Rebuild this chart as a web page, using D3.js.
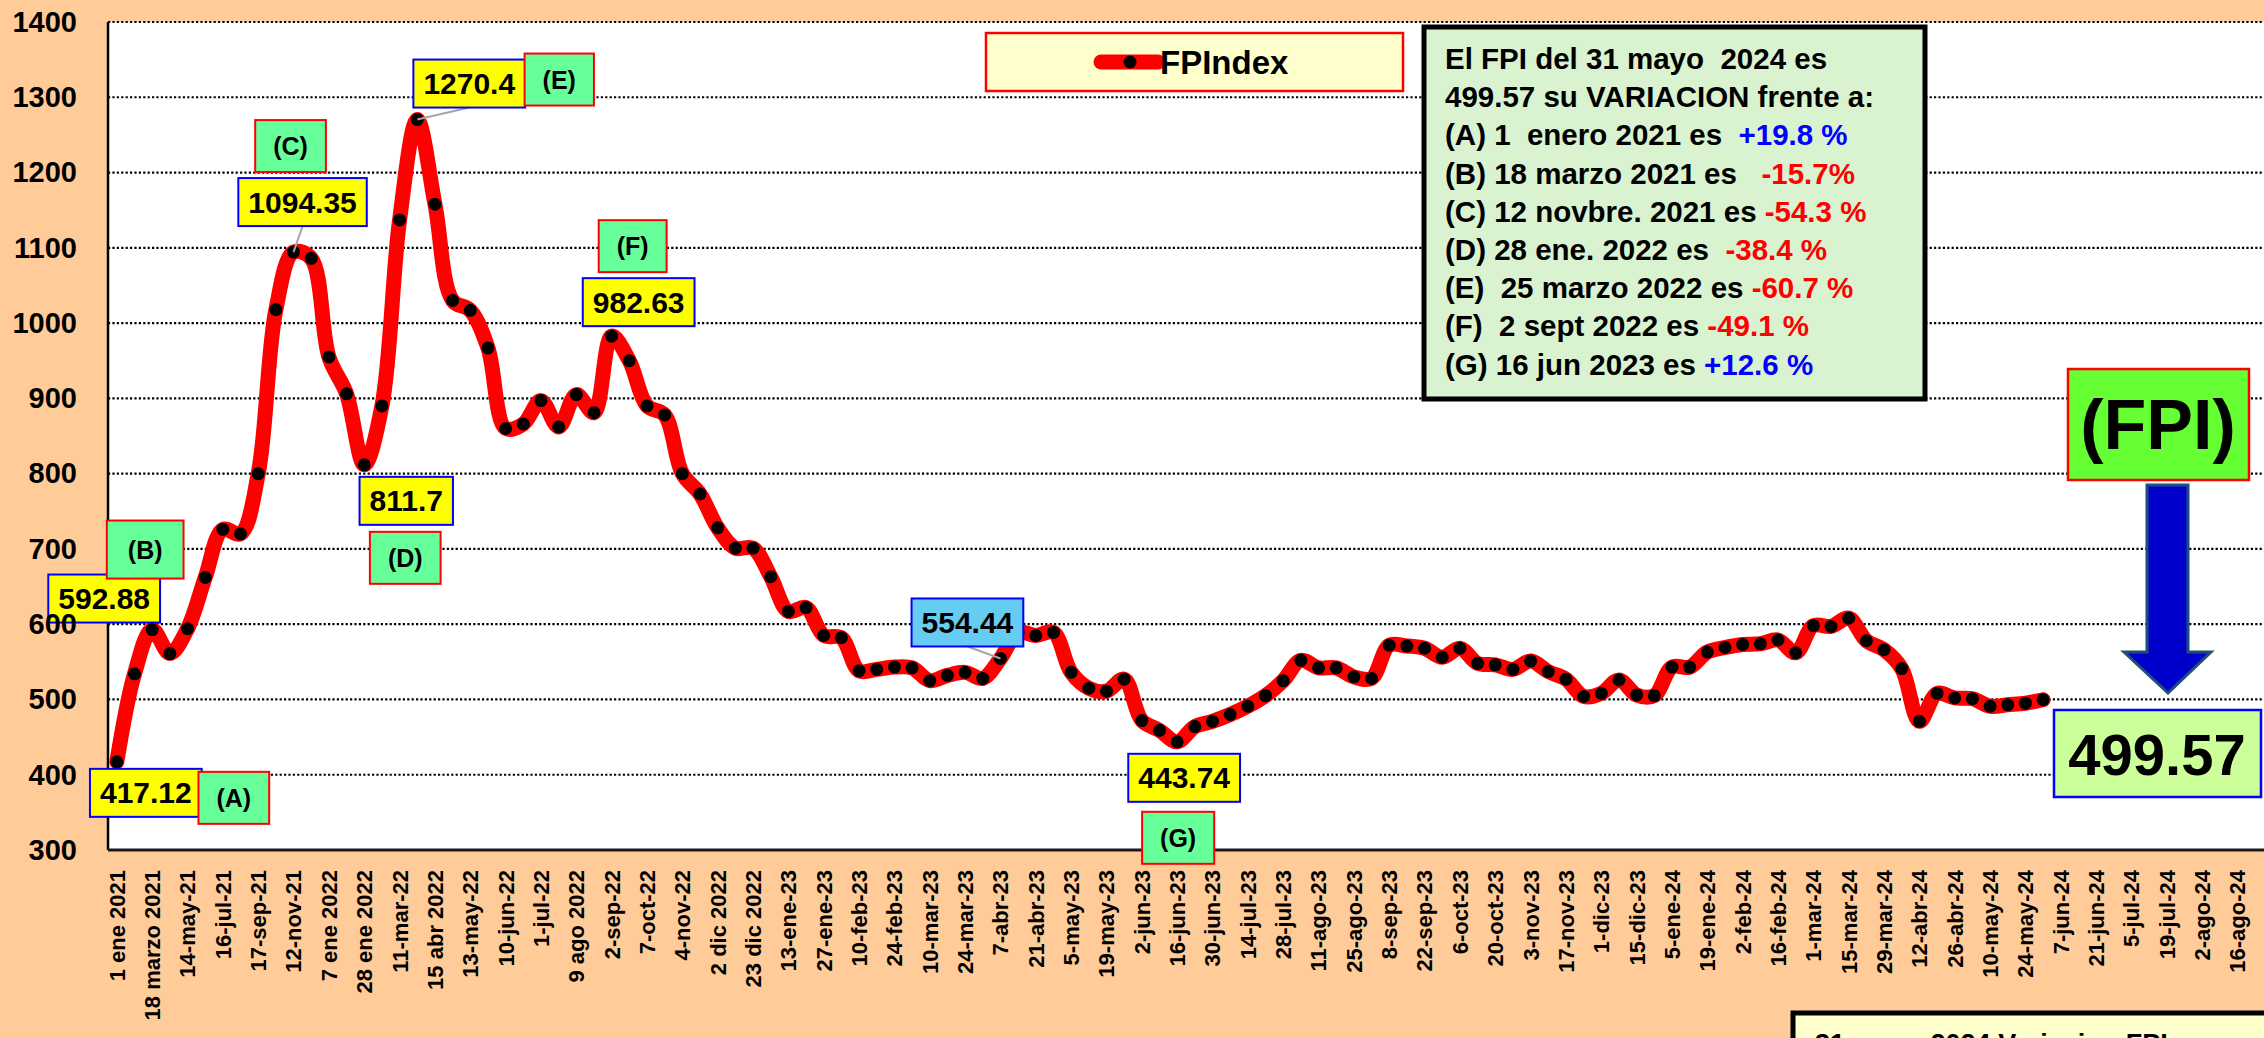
<!DOCTYPE html>
<html>
<head>
<meta charset="utf-8">
<script src="https://cdn.jsdelivr.net/npm/d3@7"></script>
<style>
  body { margin: 0; background: #ffcc99; }
  svg { display: block; font-family: "Liberation Sans", Arial, sans-serif; font-weight: bold; }
</style>
</head>
<body>
<script>
// ---- data ----
const dateLabels = [
  "1 ene 2021", "18 marzo 2021", "14-may-21", "16-jul-21", "17-sep-21", "12-nov-21",
  "7 ene 2022", "28 ene 2022", "11-mar-22", "15 abr 2022", "13-may-22", "10-jun-22",
  "1-jul-22", "9 ago 2022", "2-sep-22", "7-oct-22", "4-nov-22", "2 dic 2022",
  "23 dic 2022", "13-ene-23", "27-ene-23", "10-feb-23", "24-feb-23", "10-mar-23",
  "24-mar-23", "7-abr-23", "21-abr-23", "5-may-23", "19-may-23", "2-jun-23",
  "16-jun-23", "30-jun-23", "14-jul-23", "28-jul-23", "11-ago-23", "25-ago-23",
  "8-sep-23", "22-sep-23", "6-oct-23", "20-oct-23", "3-nov-23", "17-nov-23",
  "1-dic-23", "15-dic-23", "5-ene-24", "19-ene-24", "2-feb-24", "16-feb-24",
  "1-mar-24", "15-mar-24", "29-mar-24", "12-abr-24", "26-abr-24", "10-may-24",
  "24-may-24", "7-jun-24", "21-jun-24", "5-jul-24", "19-jul-24", "2-ago-24", "16-ago-24"
];

// one value per category slot (two slots per shown date label)
const fpiValues = [
  417.12, 534, 592.88, 561, 594, 662, 726, 720, 800, 1018,
  1094.35, 1086, 955, 906, 811.7, 890, 1137, 1270.4, 1158, 1030,
  1017, 967, 860, 866, 897, 862, 905, 881, 982.63, 950,
  890, 878, 800, 773, 728, 701, 701, 663, 617, 622,
  585, 582, 538, 540, 543, 542, 525, 532, 536, 528,
  554.44, 589, 585, 589, 536, 515, 511, 527, 472, 459,
  443.74, 464, 471, 480, 491, 505, 525, 552, 542, 542,
  530, 528, 572, 571, 568, 556, 568, 548, 546, 540,
  551, 537, 527, 504, 508, 526, 506, 505, 543, 543,
  563, 569, 573, 574, 579, 562, 598, 597, 608, 578,
  566, 541, 471, 508, 502, 501, 491, 493, 495, 499.57
];

const yTicks = [300, 400, 500, 600, 700, 800, 900, 1000, 1100, 1200, 1300, 1400];

const valueCallouts = [0, 2, 10, 14, 17, 28, 50, 60];
const letterCallouts = [["(A)", 0], ["(B)", 2], ["(C)", 10], ["(D)", 14], ["(E)", 17], ["(F)", 28], ["(G)", 60]];

const noteLines = [
  ["El FPI del 31 mayo  2024 es", ""],
  ["499.57 su VARIACION frente a:", ""],
  ["(A) 1  enero 2021 es  ", "+19.8 %"],
  ["(B) 18 marzo 2021 es   ", "-15.7%"],
  ["(C) 12 novbre. 2021 es ", "-54.3 %"],
  ["(D) 28 ene. 2022 es  ", "-38.4 %"],
  ["(E)  25 marzo 2022 es ", "-60.7 %"],
  ["(F)  2 sept 2022 es ", "-49.1 %"],
  ["(G) 16 jun 2023 es ", "+12.6 %"]
];

const lastValue = "499.57";

// ---- layout ----
const W = 2264, H = 1038;
const plot = { left: 108, right: 2264, top: 22, bottom: 850 };
const nSlots = dateLabels.length * 2;

// box centre offsets from the point they describe
const valueOffset = {
  0: [29, 31], 2: [-48, -31], 10: [9, -50], 14: [42, 36],
  17: [52, -36], 28: [27, -34], 50: [-33, -36], 60: [7, 36]
};
const letterOffset = {
  "(A)": [117, 36], "(B)": [-7, -80], "(C)": [-3, -106], "(D)": [41, 93],
  "(E)": [142, -40], "(F)": [21, -90], "(G)": [1, 96]
};
const withLeader = [10, 17, 50];

const svg = d3.select("body").append("svg")
  .attr("width", W)
  .attr("height", H);

svg.append("rect")
  .attr("x", plot.left).attr("y", plot.top)
  .attr("width", plot.right - plot.left).attr("height", plot.bottom - plot.top)
  .attr("fill", "#fff");

const x = d3.scaleBand()
  .domain(d3.range(nSlots))
  .range([plot.left, plot.right]);
const xc = i => x(i) + x.bandwidth() / 2;

const y = d3.scaleLinear()
  .domain([300, 1400])
  .range([plot.bottom, plot.top]);

// gridlines
svg.append("g")
  .selectAll("line")
  .data(yTicks.filter(d => d > 300))
  .enter().append("line")
  .attr("x1", plot.left).attr("x2", plot.right)
  .attr("y1", d => y(d)).attr("y2", d => y(d))
  .attr("stroke", "#000")
  .attr("stroke-width", 2.2)
  .attr("stroke-dasharray", "2.2,2.2");

// axes lines
svg.append("line")
  .attr("x1", plot.left).attr("x2", plot.left)
  .attr("y1", plot.top).attr("y2", plot.bottom)
  .attr("stroke", "#000").attr("stroke-width", 2.5);
svg.append("line")
  .attr("x1", plot.left).attr("x2", plot.right)
  .attr("y1", plot.bottom).attr("y2", plot.bottom)
  .attr("stroke", "#1a1a1a").attr("stroke-width", 3);

// x axis labels
const xAxis = d3.axisBottom(x)
  .tickValues(d3.range(0, nSlots, 2))
  .tickFormat(i => dateLabels[i / 2])
  .tickSize(0);
const gx = svg.append("g")
  .attr("transform", `translate(0,${plot.bottom})`)
  .call(xAxis);
gx.select(".domain").remove();
gx.selectAll("text")
  .attr("transform", "rotate(-90)")
  .attr("x", -20)
  .attr("y", 0)
  .attr("dy", "0.36em")
  .attr("text-anchor", "end")
  .attr("font-size", 22)
  .attr("font-family", "'Liberation Sans', Arial, sans-serif")
  .attr("font-weight", "bold")
  .attr("fill", "#000");

// the series
const series = fpiValues.map((v, i) => ({ i, v }));
const line = d3.line()
  .x(d => xc(d.i))
  .y(d => y(d.v))
  .curve(d3.curveCatmullRom.alpha(0.5));

svg.append("path")
  .datum(series)
  .attr("d", line)
  .attr("fill", "none")
  .attr("stroke", "#ff0000")
  .attr("stroke-width", 15)
  .attr("stroke-linecap", "round")
  .attr("stroke-linejoin", "round");

svg.append("g")
  .selectAll("circle")
  .data(series)
  .enter().append("circle")
  .attr("cx", d => xc(d.i))
  .attr("cy", d => y(d.v))
  .attr("r", 6.5)
  .attr("fill", "#000");

// callouts
function box(g, cx, cy, txt, size, fill, stroke, padX, h) {
  const t = g.append("text")
    .attr("x", cx).attr("y", cy)
    .attr("text-anchor", "middle")
    .attr("dominant-baseline", "central")
    .attr("font-size", size)
    .attr("fill", "#000")
    .text(txt);
  const w = t.node().getComputedTextLength() + padX;
  g.insert("rect", "text")
    .attr("x", cx - w / 2).attr("y", cy - h / 2)
    .attr("width", w).attr("height", h)
    .attr("fill", fill)
    .attr("stroke", stroke)
    .attr("stroke-width", 2);
  return { w, h };
}

const callG = svg.append("g");
withLeader.forEach(i => {
  const [dx, dy] = valueOffset[i];
  callG.append("line")
    .attr("x1", xc(i) + dx).attr("y1", y(fpiValues[i]) + dy + 24)
    .attr("x2", xc(i)).attr("y2", y(fpiValues[i]))
    .attr("stroke", "#a6a6a6").attr("stroke-width", 2);
});
valueCallouts.forEach(i => {
  const [dx, dy] = valueOffset[i];
  const g = callG.append("g");
  box(g, xc(i) + dx, y(fpiValues[i]) + dy, String(fpiValues[i]), 30,
    i === 50 ? "#66ccf2" : "#ffff00", "#0000ff", 20, 48);
});
letterCallouts.forEach(([lab, i]) => {
  const [dx, dy] = letterOffset[lab];
  const g = callG.append("g");
  box(g, xc(i) + dx, y(fpiValues[i]) + dy, lab, 25, "#66ff99", "#ff0000",
    lab === "(B)" ? 42 : 36, lab === "(B)" ? 58 : 52);
});

// y axis labels (drawn on top)
const yAxis = d3.axisLeft(y)
  .tickValues(yTicks)
  .tickFormat(d3.format("d"))
  .tickSize(0)
  .tickPadding(31);
const gy = svg.append("g")
  .attr("transform", `translate(${plot.left},0)`)
  .call(yAxis);
gy.select(".domain").remove();
gy.selectAll("text")
  .attr("font-size", 29)
  .attr("font-family", "'Liberation Sans', Arial, sans-serif")
  .attr("font-weight", "bold")
  .attr("fill", "#000");

// legend
const leg = svg.append("g");
leg.append("rect")
  .attr("x", 986).attr("y", 33).attr("width", 417).attr("height", 58)
  .attr("fill", "#ffffcc").attr("stroke", "#ff0000").attr("stroke-width", 2.5);
leg.append("line")
  .attr("x1", 1101).attr("x2", 1158).attr("y1", 62).attr("y2", 62)
  .attr("stroke", "#ff0000").attr("stroke-width", 15).attr("stroke-linecap", "round");
leg.append("circle").attr("cx", 1130).attr("cy", 62).attr("r", 6.5).attr("fill", "#000");
leg.append("text")
  .attr("x", 1160).attr("y", 62)
  .attr("dominant-baseline", "central")
  .attr("font-size", 33)
  .text("FPIndex");

// info box
const info = svg.append("g");
info.append("rect")
  .attr("x", 1424).attr("y", 27).attr("width", 501).attr("height", 372)
  .attr("fill", "#d9f2d0").attr("stroke", "#000").attr("stroke-width", 5);
noteLines.forEach((ln, k) => {
  const t = info.append("text")
    .attr("x", 1445).attr("y", 69 + k * 38.2)
    .attr("font-size", 29.5)
    .style("white-space", "pre");
  t.append("tspan").attr("fill", "#000").text(ln[0]);
  if (ln[1]) {
    t.append("tspan")
      .attr("fill", ln[1][0] === "+" ? "#0000ff" : "#ff0000")
      .text(ln[1]);
  }
});

// (FPI) + arrow + last value
svg.append("rect")
  .attr("x", 2068).attr("y", 369).attr("width", 181).attr("height", 111)
  .attr("fill", "#66ff33").attr("stroke", "#ff0000").attr("stroke-width", 2.5);
svg.append("text")
  .attr("x", 2158).attr("y", 425)
  .attr("text-anchor", "middle").attr("dominant-baseline", "central")
  .attr("font-size", 70)
  .text("(FPI)");

svg.append("path")
  .attr("d", "M2147,485 L2188,485 L2188,652 L2211,652 L2168,693 L2124,652 L2147,652 Z")
  .attr("fill", "#0000cc")
  .attr("stroke", "#1f4e79")
  .attr("stroke-width", 3);

svg.append("rect")
  .attr("x", 2054).attr("y", 710).attr("width", 207).attr("height", 87)
  .attr("fill", "#ccff99").attr("stroke", "#0000ff").attr("stroke-width", 2.5);
svg.append("text")
  .attr("x", 2157).attr("y", 754)
  .attr("text-anchor", "middle").attr("dominant-baseline", "central")
  .attr("font-size", 58)
  .text(lastValue);

// box cut off at the bottom edge
svg.append("rect")
  .attr("x", 1793).attr("y", 1013).attr("width", 520).attr("height", 100)
  .attr("fill", "#ffffcc").attr("stroke", "#000").attr("stroke-width", 5);
svg.append("text")
  .attr("x", 1815).attr("y", 1053)
  .attr("font-size", 27)
  .text("31 mayo 2024 Variacion FPI con :");
</script>
</body>
</html>
